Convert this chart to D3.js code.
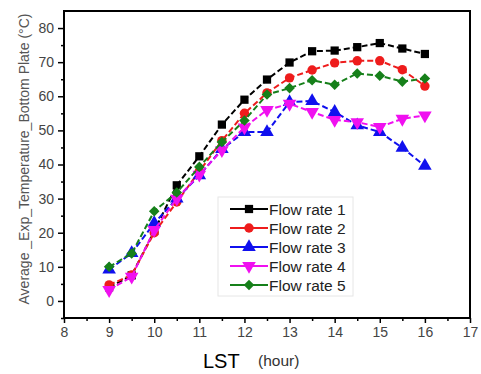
<!DOCTYPE html>
<html>
<head>
<meta charset="utf-8">
<script src="https://cdn.jsdelivr.net/npm/d3@7"></script>
<style>
  body { margin: 0; background: #fff; }
  text { font-family: "Liberation Sans", Arial, sans-serif; }
</style>
</head>
<body>
<svg width="481" height="374"></svg>
<script>
const svg = d3.select('svg');

// data
var hours = [9, 9.5, 10, 10.5, 11, 11.5, 12, 12.5, 13, 13.5, 14, 14.5, 15, 15.5, 16];
var flow1 = [4, 7.5, 20.5, 33.9, 42.4, 51.7, 59, 64.9, 69.9, 73.2, 73.4, 74.4, 75.6, 74, 72.4];
var flow2 = [4.7, 7.6, 20, 29, 38, 47, 55, 61, 65.4, 67.7, 69.8, 70.4, 70.4, 67.8, 63];
var flow3 = [9.2, 14, 22.8, 30, 36.8, 44.5, 49.5, 49.5, 58.3, 58.6, 55.4, 51.5, 49.5, 44.9, 39.6];
var flow4 = [3.2, 7.1, 20.8, 30, 37, 44.2, 50.9, 56, 57.8, 55.4, 53.1, 52.4, 51, 53.4, 54.4];
var flow5 = [10, 13.9, 26.3, 31.8, 39.3, 46.6, 52.9, 60.5, 62.4, 64.7, 63.4, 66.7, 66, 64.3, 65.2];
var names = ["Flow rate 1", "Flow rate 2", "Flow rate 3", "Flow rate 4", "Flow rate 5"];
var xTicks = [8, 9, 10, 11, 12, 13, 14, 15, 16, 17];
var yTicks = [0, 10, 20, 30, 40, 50, 60, 70, 80];

var colors = ["#000000", "#ee1c1c", "#1010ee", "#f010f0", "#16801a"];
// diamond = square turned 45deg
var shapes = [d3.symbolSquare, d3.symbolCircle, d3.symbolTriangle, d3.symbolTriangle, d3.symbolSquare];
var sizes = [68, 70, 80, 80, 56];
var rot = [0, 0, 0, 180, 45];

var series = [flow1, flow2, flow3, flow4, flow5].map(function(v, i){
    return {name: names[i], values: v.map(function(d, j){ return {x: hours[j], y: d}; })};
});

//plot box
var pLeft = 64, pRight = 470, pTop = 11, pBottom = 318;
var x = d3.scaleLinear().domain([8, 17]).range([pLeft, pRight]);
var y = d3.scaleLinear().domain([-5, 85]).range([pBottom, pTop]);

//minor ticks
var minorX = d3.range(8.5, 17, 1);
var minorY = d3.range(-5, 85, 10);

svg.append("g")
    .attr("transform", "translate(0," + pBottom + ")")
    .call(d3.axisBottom(x).tickValues(minorX).tickSize(3).tickFormat(""))
    .call(function(g){ g.select(".domain").remove(); g.selectAll("line").attr("stroke-width", 1.5); });
svg.append("g")
    .attr("transform", "translate(" + pLeft + ",0)")
    .call(d3.axisLeft(y).tickValues(minorY).tickSize(3).tickFormat(""))
    .call(function(g){ g.select(".domain").remove(); g.selectAll("line").attr("stroke-width", 1.5); });

//major ticks
var xAxis = svg.append("g")
    .attr("transform", "translate(0," + pBottom + ")")
    .call(d3.axisBottom(x).tickValues(xTicks).tickSize(5).tickPadding(4));
var yAxis = svg.append("g")
    .attr("transform", "translate(" + pLeft + ",0)")
    .call(d3.axisLeft(y).tickValues(yTicks).tickSize(6).tickPadding(4));
[xAxis, yAxis].forEach(function(g){
    g.select(".domain").remove();
    g.selectAll("line").attr("stroke-width", 1.5);
    g.selectAll("text").attr("font-size", 14).attr("fill", "#444")
        .style("font-family", "Liberation Sans, Arial, sans-serif");
});

//frame
svg.append("rect")
    .attr("x", pLeft).attr("y", pTop)
    .attr("width", pRight - pLeft).attr("height", pBottom - pTop)
    .attr("fill", "none").attr("stroke", "#000").attr("stroke-width", 2);

//lines
var line = d3.line().x(function(d){ return x(d.x); }).y(function(d){ return y(d.y); });

var g = svg.append("g");
series.forEach(function(s, i){
    g.append("path")
        .attr("d", line(s.values))
        .attr("fill", "none")
        .attr("stroke", colors[i])
        .attr("stroke-width", 2)
        .attr("stroke-dasharray", "6,3");
    g.selectAll(".m" + i)
        .data(s.values)
        .enter()
        .append("path")
        .attr("d", d3.symbol().type(shapes[i]).size(sizes[i]))
        .attr("transform", function(d){ return "translate(" + x(d.x) + "," + y(d.y) + ") rotate(" + rot[i] + ")"; })
        .attr("fill", colors[i]);
});

//legend
var lg = svg.append("g").attr("transform", "translate(218,197)");
lg.append("rect")
    .attr("width", 135).attr("height", 99)
    .attr("fill", "#fff").attr("stroke", "#e6e6e6").attr("stroke-width", 1);
series.forEach(function(s, i){
    var row = lg.append("g").attr("transform", "translate(0," + (12 + i * 19) + ")");
    row.append("line")
        .attr("x1", 12).attr("x2", 50)
        .attr("stroke", colors[i]).attr("stroke-width", 2);
    row.append("path")
        .attr("d", d3.symbol().type(shapes[i]).size(sizes[i]))
        .attr("transform", "translate(31,0) rotate(" + rot[i] + ")")
        .attr("fill", colors[i]);
    row.append("text")
        .attr("x", 51).attr("y", 5.5)
        .attr("font-size", 15.5).attr("fill", "#222")
        .text(s.name);
});

//axis titles
svg.append("text")
    .attr("transform", "translate(29,159) rotate(-90)")
    .attr("text-anchor", "middle")
    .attr("font-size", 14).attr("fill", "#555")
    .text("Average _Exp_Temperature_Bottom Plate (°C)");

svg.append("text")
    .attr("x", 203).attr("y", 368)
    .attr("font-size", 20).attr("fill", "#000")
    .text("LST");
svg.append("text")
    .attr("x", 258).attr("y", 366)
    .attr("font-size", 15.5).attr("fill", "#333")
    .text("(hour)");
</script>
</body>
</html>
